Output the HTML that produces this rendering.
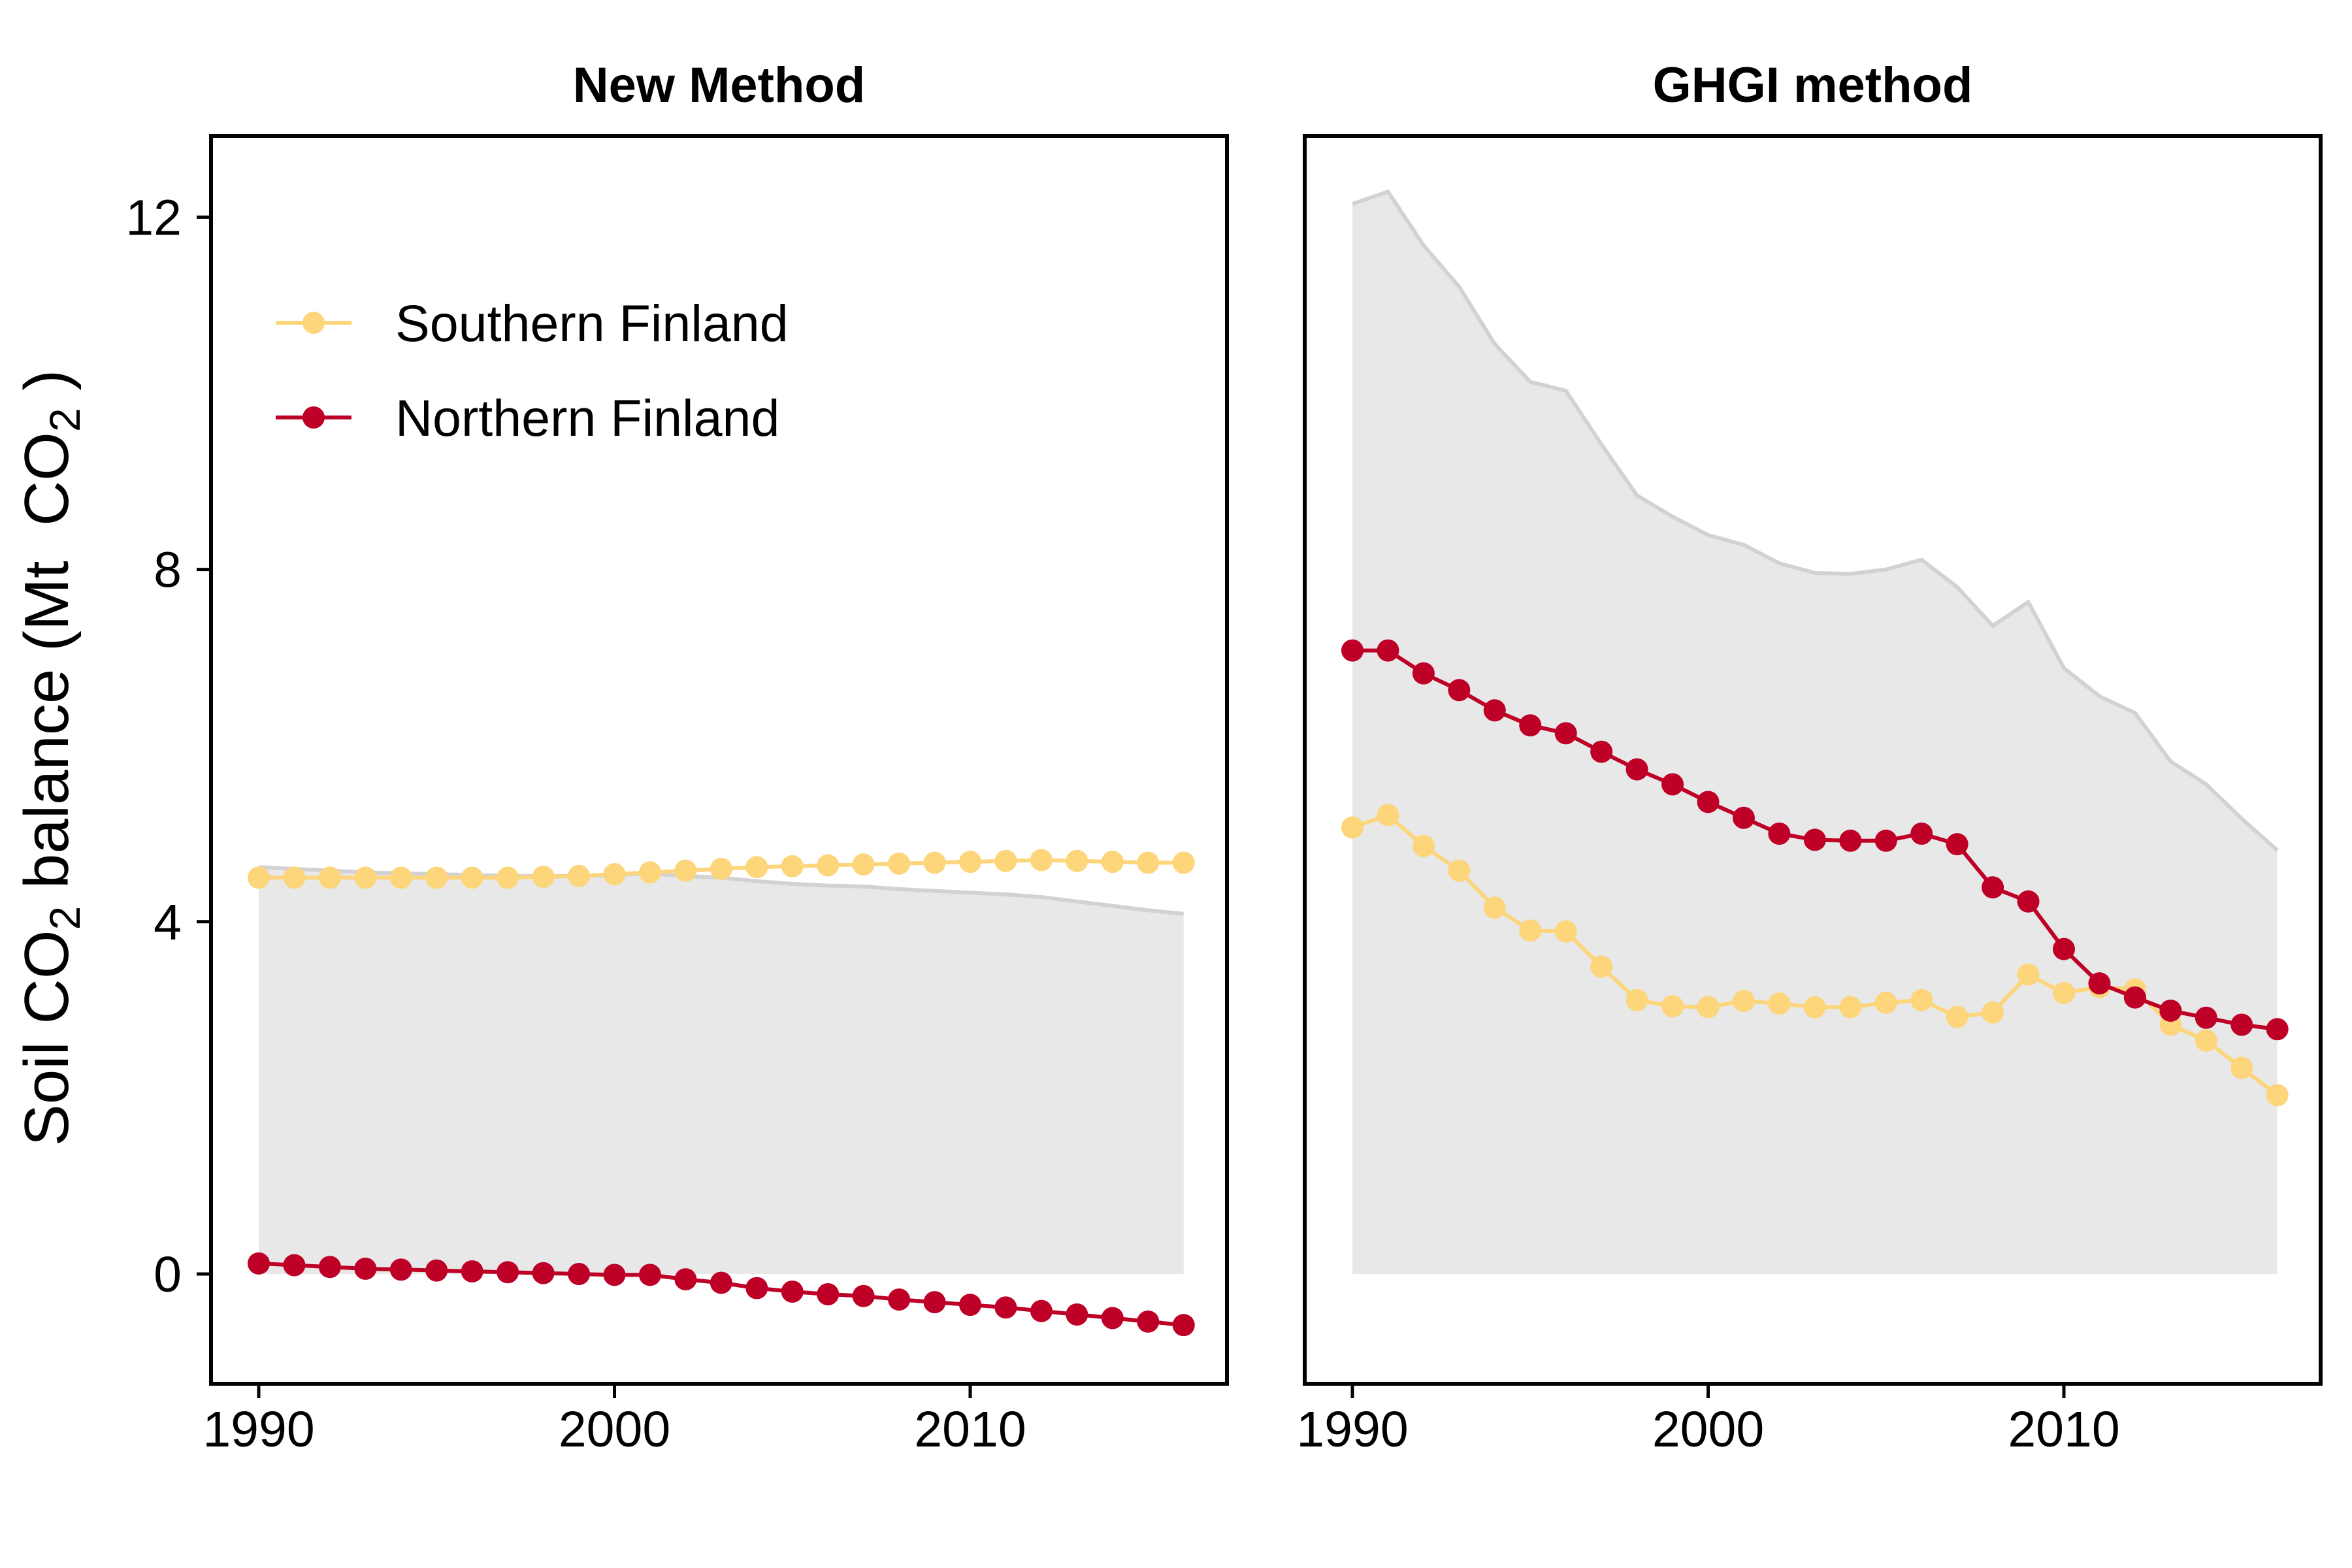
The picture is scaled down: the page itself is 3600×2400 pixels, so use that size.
<!DOCTYPE html>
<html><head><meta charset="utf-8"><style>
html,body{margin:0;padding:0;background:#fff}
svg{display:block;font-family:"Liberation Sans",Arial,sans-serif}
</style></head><body>
<svg id="chart" width="3600" height="2400" viewBox="0 0 3600 2400" xmlns="http://www.w3.org/2000/svg"></svg>
<script>
const years = [1990,1991,1992,1993,1994,1995,1996,1997,1998,1999,2000,2001,2002,2003,2004,2005,2006,2007,2008,2009,2010,2011,2012,2013,2014,2015,2016];
const newSouth = [4.50,4.50,4.50,4.50,4.50,4.50,4.50,4.50,4.51,4.52,4.54,4.56,4.58,4.60,4.62,4.63,4.64,4.65,4.66,4.67,4.68,4.69,4.70,4.69,4.68,4.67,4.67];
const newNorth = [0.12,0.10,0.08,0.06,0.05,0.04,0.03,0.02,0.01,0.00,-0.01,-0.01,-0.06,-0.10,-0.16,-0.20,-0.23,-0.25,-0.29,-0.32,-0.35,-0.38,-0.42,-0.46,-0.50,-0.54,-0.58];
const ghgiSouth = [5.07,5.21,4.86,4.58,4.16,3.90,3.89,3.49,3.11,3.04,3.03,3.10,3.07,3.03,3.03,3.08,3.11,2.92,2.97,3.40,3.19,3.26,3.23,2.83,2.65,2.34,2.03];
const ghgiNorth = [7.08,7.08,6.82,6.63,6.40,6.23,6.14,5.93,5.73,5.56,5.36,5.18,5.00,4.93,4.92,4.92,5.00,4.88,4.39,4.23,3.69,3.30,3.14,2.99,2.91,2.83,2.78];
const yTicks = [0,4,8,12];
const xTicks = [1990,2000,2010];
const panelTitles = ["New Method","GHGI method"];

const NS="http://www.w3.org/2000/svg";
const svg=document.getElementById('chart');
function mk(tag,attrs,parent){const e=document.createElementNS(NS,tag);for(const k in attrs)e.setAttribute(k,attrs[k]);(parent||svg).appendChild(e);return e;}
const SOUTH="#fdd57a", NORTH="#be0027";
const BOX_TOP=208, BOX_BOT=2118, BOX_W=1555;
const yScale=v=>1950-v*134.8;
const panels=[{x0:323,south:newSouth,north:newNorth,key:'new-method'},{x0:1997,south:ghgiSouth,north:ghgiNorth,key:'ghgi-method'}];
panels.forEach((p,pi)=>{
  const xScale=yr=>p.x0+73+(yr-1990)*54.45;
  const g=mk('g',{});
  
  
  const total=years.map((y,i)=>p.south[i]+p.north[i]);
  let d='M'+xScale(years[0])+','+yScale(0);
  years.forEach((y,i)=>{d+=' L'+xScale(y)+','+yScale(total[i]);});
  d+=' L'+xScale(years[years.length-1])+','+yScale(0)+' Z';
  const area=mk('path',{d:d,fill:'#e8e8e8',stroke:'none'},g);
  
  
  const tl=mk('polyline',{points:years.map((y,i)=>xScale(y)+','+yScale(total[i])).join(' '),fill:'none',stroke:'#d2d2d2','stroke-width':6},g);
  
  
  [[p.south,SOUTH,'southern'],[p.north,NORTH,'northern']].forEach(([arr,col,nm])=>{
    const l=mk('polyline',{points:years.map((y,i)=>xScale(y)+','+yScale(arr[i])).join(' '),fill:'none',stroke:col,'stroke-width':6},g);
    
    
    years.forEach((y,i)=>{
      const c=mk('circle',{cx:xScale(y),cy:yScale(arr[i]),r:17,fill:col},g);
      
      
    });
  });
  const box=mk('rect',{x:p.x0,y:BOX_TOP,width:BOX_W,height:BOX_BOT-BOX_TOP,fill:'none',stroke:'#000','stroke-width':6},g);
  
  
  xTicks.forEach(t=>{
    mk('line',{x1:xScale(t),x2:xScale(t),y1:BOX_BOT,y2:BOX_BOT+22,stroke:'#000','stroke-width':5},g);
    const tx=mk('text',{x:xScale(t),y:2214,'text-anchor':'middle','font-size':77,fill:'#000'},g);
    tx.textContent=t;
    
    
  });
  const ttl=mk('text',{x:p.x0+BOX_W/2,y:156,'text-anchor':'middle','font-size':76,'font-weight':'bold',fill:'#000'},g);
  ttl.textContent=panelTitles[pi];
  
  
});
yTicks.forEach(t=>{
  mk('line',{x1:301,x2:323,y1:yScale(t),y2:yScale(t),stroke:'#000','stroke-width':5});
  const tx=mk('text',{x:278,y:yScale(t)+27,'text-anchor':'end','font-size':77,fill:'#000'});
  tx.textContent=t;
  
  
});
const yt=mk('text',{transform:'translate(104,1160) rotate(-90)','text-anchor':'middle','font-size':96,fill:'#000'});
yt.innerHTML='Soil CO<tspan font-size="66" dy="18">2</tspan><tspan dy="-18"> balance (Mt  CO</tspan><tspan font-size="66" dy="18">2</tspan><tspan dy="-18"> )</tspan>';
yt.setAttribute('xml:space','preserve');
yt.style.whiteSpace='pre';


[['Southern Finland',SOUTH,494],['Northern Finland',NORTH,639]].forEach(([lab,col,y])=>{
  const g=mk('g',{});
  
  
  mk('line',{x1:422,x2:538,y1:y,y2:y,stroke:col,'stroke-width':6},g);
  mk('circle',{cx:480,cy:y,r:17,fill:col},g);
  const t=mk('text',{x:605,y:y+28,'font-size':79,fill:'#000'},g);
  t.textContent=lab;
});
</script>
</body></html>
